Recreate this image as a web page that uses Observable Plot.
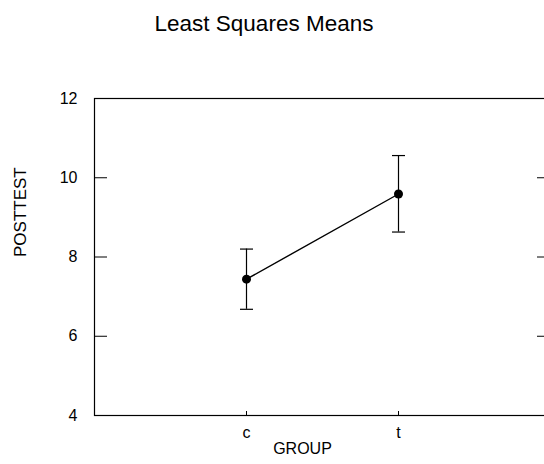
<!DOCTYPE html>
<html>
<head>
<meta charset="utf-8">
<script src="https://cdn.jsdelivr.net/npm/d3@7"></script>
<script src="https://cdn.jsdelivr.net/npm/@observablehq/plot@0.6"></script>
<style>
  html, body { margin: 0; padding: 0; background: #fff; overflow: hidden; width: 544px; height: 464px; }
  #title { width: 544px; height: 60px; box-sizing: border-box; padding-top: 12px; padding-right: 16px;
           text-align: center; font-family: "Liberation Sans", Arial, sans-serif; font-size: 22.5px; line-height: 24px; color: #000; }
  #chart { width: 544px; height: 404px; overflow: hidden; position: relative; }
  #chart svg { display: block; position: absolute; left: 0; top: 0; max-width: none !important; }
</style>
</head>
<body>
<div id="title"></div>
<div id="chart"></div>
<script>
const titleText = "Least Squares Means";
const xLabel = "GROUP";
const yLabel = "POSTTEST";
const groups = ["c", "t"];
const means = [7.44, 9.59];
const lower = [6.68, 8.63];
const upper = [8.20, 10.56];
const yTicks = [4, 6, 8, 10, 12];
const yInnerTicks = [6, 8, 10];

document.getElementById("title").textContent = titleText;

const data = groups.map((g, i) => ({group: g, mean: means[i], lo: lower[i], hi: upper[i]}));

const W = 551, H = 404;
const mL = 94, mR = 1, mT = 38, mB = 49;
const fw = W - mL - mR, fh = H - mT - mB;

// horizontal cap symbol for error bars
const capSymbol = {
  draw(context, size) {
    const r = Math.sqrt(size / Math.PI);
    context.moveTo(-r, 0);
    context.lineTo(r, 0);
  }
};

const chart = Plot.plot({
  width: W,
  height: H,
  marginLeft: mL,
  marginRight: mR,
  marginTop: mT,
  marginBottom: mB,
  style: {fontFamily: "'Liberation Sans', Arial, sans-serif", fontSize: "16px", color: "#000", background: "#fff", maxWidth: "none"},
  x: {type: "point", domain: groups, padding: 1},
  y: {domain: [4, 12]},
  marks: [
    Plot.frame({stroke: "#000", strokeWidth: 1.2}),
    Plot.axisY({ticks: yTicks, tickSize: 0, tickPadding: 17, label: null, fontSize: 16}),
    Plot.axisX({tickSize: 0, tickPadding: 11, label: null, fontSize: 16}),
    Plot.tickY(yInnerTicks, {y: d => d, insetRight: fw - 13, stroke: "#000"}),
    Plot.tickY(yInnerTicks, {y: d => d, insetLeft: fw - 13, stroke: "#000"}),
    Plot.ruleX(groups, {x: d => d, insetTop: fh - 4, stroke: "#000"}),
    Plot.ruleX(data, {x: "group", y1: "lo", y2: "hi", stroke: "#000", strokeWidth: 1.2}),
    Plot.dot(data, {x: "group", y: "lo", symbol: capSymbol, r: 6.5, fill: "none", stroke: "#000", strokeWidth: 1.2}),
    Plot.dot(data, {x: "group", y: "hi", symbol: capSymbol, r: 6.5, fill: "none", stroke: "#000", strokeWidth: 1.2}),
    Plot.line(data, {x: "group", y: "mean", stroke: "#000", strokeWidth: 1.4}),
    Plot.dot(data, {x: "group", y: "mean", r: 4.5, fill: "#000", stroke: "none"}),
    Plot.text([yLabel], {text: d => d, frameAnchor: "left", dx: -74, rotate: -90, fontSize: 17, lineAnchor: "middle", fill: "#000"}),
    Plot.text([xLabel], {text: d => d, frameAnchor: "bottom", dx: -20, dy: 33, fontSize: 16, lineAnchor: "middle", fill: "#000"})
  ]
});
document.getElementById("chart").appendChild(chart);
</script>
</body>
</html>
